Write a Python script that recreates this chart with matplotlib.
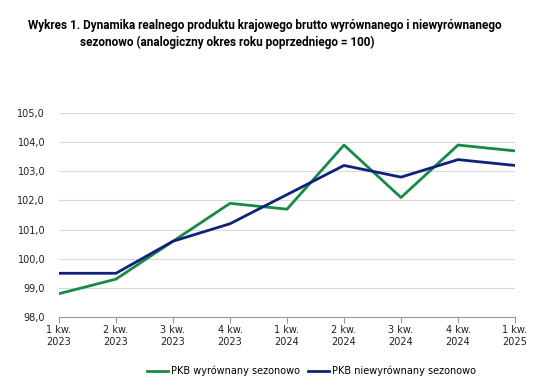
import matplotlib
matplotlib.use('Agg')
import matplotlib.pyplot as plt
import numpy as np

# ----Data---- #
quarters = ['1 kw.\n2023', '2 kw.\n2023', '3 kw.\n2023', '4 kw.\n2023', '1 kw.\n2024',
            '2 kw.\n2024', '3 kw.\n2024', '4 kw.\n2024', '1 kw.\n2025']
gdp_sa = [98.8, 99.3, 100.6, 101.9, 101.7, 103.9, 102.1, 103.9, 103.7]
gdp_nsa = [99.5, 99.5, 100.6, 101.2, 102.2, 103.2, 102.8, 103.4, 103.2]
yticks = [98.0, 99.0, 100.0, 101.0, 102.0, 103.0, 104.0, 105.0]

green = '#178a45'
navy = '#10217a'

fig = plt.figure(figsize=(5.43, 3.87), dpi=100)
ax = fig.add_axes([59 / 543, 1 - 317 / 387, (515 - 59) / 543, (317 - 113) / 387])

x = np.arange(len(quarters))
ax.plot(x, gdp_sa, color=green, lw=2.0, label='PKB wyrównany sezonowo')
ax.plot(x, gdp_nsa, color=navy, lw=2.0, label='PKB niewyrównany sezonowo')

ax.set_xlim(0, len(quarters) - 1)
ax.set_ylim(98, 105)
ax.set_yticks(yticks)
ax.set_yticklabels(['{:.1f}'.format(v).replace('.', ',') for v in yticks])
ax.set_xticks(x)
ax.set_xticklabels(quarters)
ax.tick_params(axis='both', labelsize=7, colors='#222222')
ax.tick_params(axis='y', length=0, pad=10)
ax.tick_params(axis='x', length=4, color='#999999', pad=2)
ax.grid(axis='y', color='#d9d9d9', lw=0.8)
ax.set_axisbelow(True)
for side in ('top', 'right', 'left'):
    ax.spines[side].set_visible(False)
ax.spines['bottom'].set_color('#999999')

title_font = dict(fontsize=8.5, fontweight='bold', family=['Roboto', 'DejaVu Sans'], va='top', ha='left')
fig.text(28 / 543, 0.95, 'Wykres 1. Dynamika realnego produktu krajowego brutto wyrównanego i niewyrównanego',
         **title_font)
fig.text(80 / 543, 0.908, 'sezonowo (analogiczny okres roku poprzedniego = 100)', **title_font)

fig.legend(loc='center', bbox_to_anchor=(0.574, 0.041), ncol=2, frameon=False, fontsize=7,
           handlelength=2.2, handletextpad=0.3, columnspacing=0.8)

fig.savefig('out.png', dpi=100)
